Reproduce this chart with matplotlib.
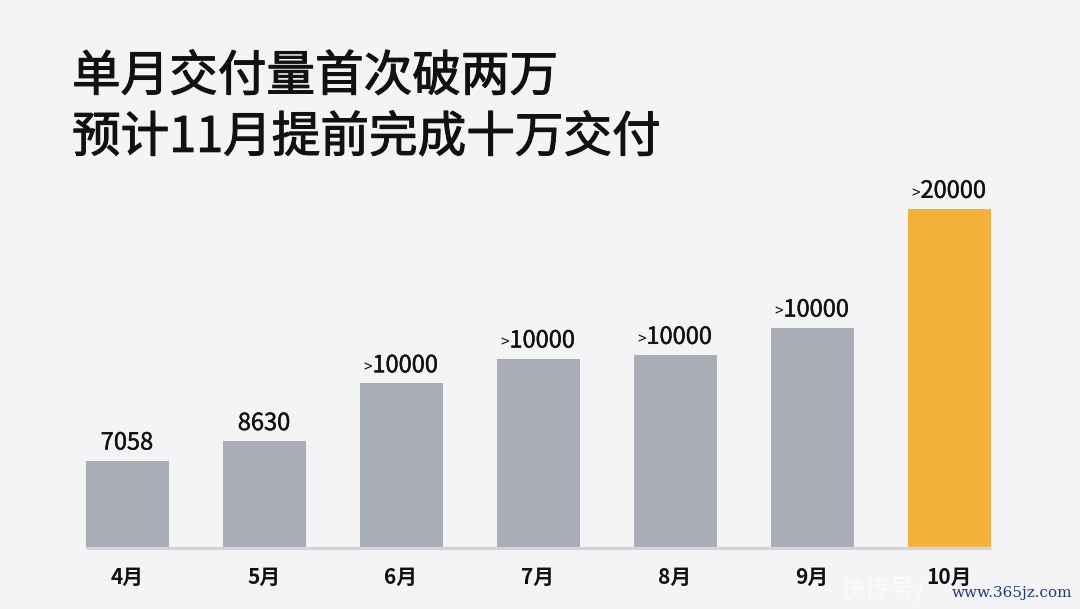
import matplotlib
matplotlib.use('Agg')
import matplotlib.pyplot as plt
import matplotlib.patheffects as pe
from matplotlib.transforms import offset_copy

plt.rcParams['font.family'] = ['Noto Sans CJK SC', 'DejaVu Sans']

# data (bar heights estimated from pixel lengths)
months = ['4月', '5月', '6月', '7月', '8月', '9月', '10月']
deliveries = [7058, 8630, 13300, 15300, 15600, 17800, 27400]
value_labels = ['7058', '8630', '>10000', '>10000', '>10000', '>10000', '>20000']
title_lines = ['单月交付量首次破两万', '预计11月提前完成十万交付']

bg = '#f4f4f6'
gray = '#a9adb6'
orange = '#f5b23a'
ink = '#111111'

fig = plt.figure(figsize=(10.8, 6.09), dpi=100, facecolor=bg)
ax = fig.add_axes([0, 0, 1, 1])
ax.set_facecolor(bg)

# pixel layout: bar centres 137px apart starting at 127px, baseline 61px from bottom
px = 137.0
units_per_px = 80.8
ax.set_xlim(-127 / px, (1080 - 127) / px)
ax.set_ylim(-61 * units_per_px, (609 - 61) * units_per_px)
ax.axis('off')

x = list(range(len(months)))
colors = [gray] * (len(months) - 1) + [orange]
ax.bar(x, deliveries, width=83 / px, color=colors, zorder=2)

# baseline
ax.plot([-0.5 * 83 / px, x[-1] + 0.5 * 83 / px], [0, 0], color='#d4d4d8', lw=2.3,
        solid_capstyle='butt', zorder=3)

# regular weight + thin outline gives a "medium" look
med = [pe.withStroke(linewidth=0.3, foreground=ink)]
title_fx = [pe.withStroke(linewidth=0.8, foreground=ink)]

renderer = fig.canvas.get_renderer()
for xi, v, lab, m in zip(x, deliveries, value_labels, months):
    num = lab.lstrip('>')
    shift = 4 if lab.startswith('>') else 0
    t = ax.annotate(num, (xi, v), xytext=(shift * 0.72, 8), textcoords='offset points',
                    ha='center', va='baseline', fontsize=17, color=ink, path_effects=med)
    if lab.startswith('>'):
        # the ">" sign is drawn smaller, just left of the digits
        bb = t.get_window_extent(renderer)
        tr = offset_copy(ax.transData, fig=fig, x=-(bb.width / 2 + 1) + shift, y=11, units='dots')
        ax.text(xi, v, '>', transform=tr, ha='right', va='baseline',
                fontsize=11, color=ink)
    ax.annotate(m, (xi, 0), xytext=(0, -21), textcoords='offset points',
                ha='center', va='center', fontsize=15, fontweight='bold', color=ink)

fig.text(72 / 1080, 1 - 77 / 609, title_lines[0], ha='left', va='center',
         fontsize=35, color=ink, path_effects=title_fx)
fig.text(72 / 1080, 1 - 138 / 609, title_lines[1], ha='left', va='center',
         fontsize=35, color=ink, path_effects=title_fx)

# watermark
fig.text(840 / 1080, 1 - 590 / 609, '快传号/', ha='left', va='center',
         fontsize=18, color='white', alpha=0.6)
fig.text(1072 / 1080, 1 - 593 / 609, 'www.365jz.com', ha='right', va='center',
         fontsize=11, family='DejaVu Serif', color='#1d3c7c')

fig.savefig('out.png', dpi=100, facecolor=bg)
